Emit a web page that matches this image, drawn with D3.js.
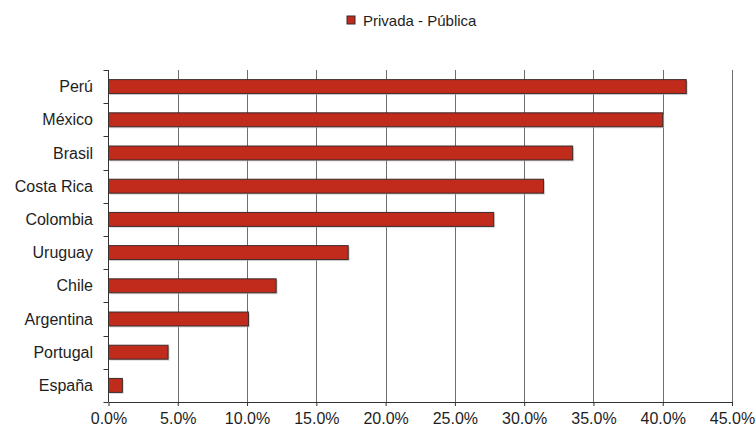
<!DOCTYPE html>
<html>
<head>
<meta charset="utf-8">
<script src="https://cdn.jsdelivr.net/npm/d3@7"></script>
<style>
  body { margin: 0; background: #fff; }
  text { font-family: "Liberation Sans", Arial, sans-serif; fill: #1e1e1e; }
</style>
</head>
<body>
<svg id="chart" width="756" height="431"></svg>
<script>
// data
const countries = ["Perú", "México", "Brasil", "Costa Rica", "Colombia", "Uruguay", "Chile", "Argentina", "Portugal", "España"];
const values = [41.7, 40.0, 33.5, 31.4, 27.8, 17.3, 12.1, 10.1, 4.3, 1.0];
const seriesName = "Privada - Pública";
const xTicks = [0, 5, 10, 15, 20, 25, 30, 35, 40, 45];

const svg = d3.select("#chart");
const margin = { left: 108.5, right: 24, top: 70, bottom: 29 };
const W = 756, H = 431;

const x = d3.scaleLinear().domain([0, 45]).range([margin.left, W - margin.right]);
const y = d3.scaleBand().domain(countries).range([margin.top, H - margin.bottom]).paddingInner(0.58).paddingOuter(0.29);
const band = d3.scaleBand().domain(countries).range([margin.top, H - margin.bottom]);

// vertical gridlines
svg.append("g")
    .selectAll("line")
    .data(xTicks.slice(1))
    .join("line")
    .attr("x1", d => Math.round(x(d)) + 0.5)
    .attr("x2", d => Math.round(x(d)) + 0.5)
    .attr("y1", margin.top)
    .attr("y2", H - margin.bottom)
    .attr("stroke", "#6e6e6e")
    .attr("stroke-width", 1);

// bars (with a faint shadow)
svg.append("g")
    .selectAll("rect")
    .data(countries)
    .join("rect")
    .attr("x", x(0) + 1.5)
    .attr("y", d => y(d) + 1.5)
    .attr("width", (d, i) => x(values[i]) - x(0))
    .attr("height", y.bandwidth())
    .attr("fill", "#bdbdbd")
    .attr("opacity", 0.6);

svg.append("g")
    .selectAll("rect")
    .data(countries)
    .join("rect")
    .attr("x", x(0))
    .attr("y", d => y(d))
    .attr("width", (d, i) => x(values[i]) - x(0))
    .attr("height", y.bandwidth())
    .attr("fill", "#c02b1b")
    .attr("stroke", "#3a2a2a")
    .attr("stroke-width", 1);

// y axis
const yAxis = svg.append("g").attr("transform", `translate(${x(0)},0)`);
yAxis.append("line")
    .attr("y1", margin.top).attr("y2", H - margin.bottom)
    .attr("stroke", "#333");
const yTickPos = countries.map(c => band(c)).concat([H - margin.bottom]);
yAxis.selectAll(".tk")
    .data(yTickPos)
    .join("line")
    .attr("x1", -5).attr("x2", 0)
    .attr("y1", d => Math.round(d) + 0.5)
    .attr("y2", d => Math.round(d) + 0.5)
    .attr("stroke", "#333");
yAxis.selectAll("text")
    .data(countries)
    .join("text")
    .attr("x", -15.5)
    .attr("y", d => band(d) + band.bandwidth() / 2)
    .attr("dy", "0.35em")
    .attr("text-anchor", "end")
    .attr("font-size", 16)
    .text(d => d);

// x axis
const xAxis = svg.append("g")
    .attr("transform", `translate(0,${H - margin.bottom})`)
    .call(d3.axisBottom(x).tickValues(xTicks).tickSize(4).tickSizeOuter(0)
        .tickFormat(d => d.toFixed(1) + "%"));
xAxis.select(".domain").attr("stroke", "#333");
xAxis.selectAll(".tick line").attr("stroke", "#333");
xAxis.selectAll(".tick text")
    .attr("font-size", 16)
    .attr("font-family", "Liberation Sans, Arial, sans-serif")
    .attr("fill", "#1e1e1e")
    .attr("y", 22)
    .attr("dy", 0);

// legend
const legend = svg.append("g").attr("transform", "translate(347,16)");
legend.append("rect")
    .attr("width", 8).attr("height", 8)
    .attr("fill", "#c02b1b")
    .attr("stroke", "#3a2a2a");
legend.append("text")
    .attr("x", 16).attr("y", 10)
    .attr("font-size", 15)
    .text(seriesName);
</script>
</body>
</html>
